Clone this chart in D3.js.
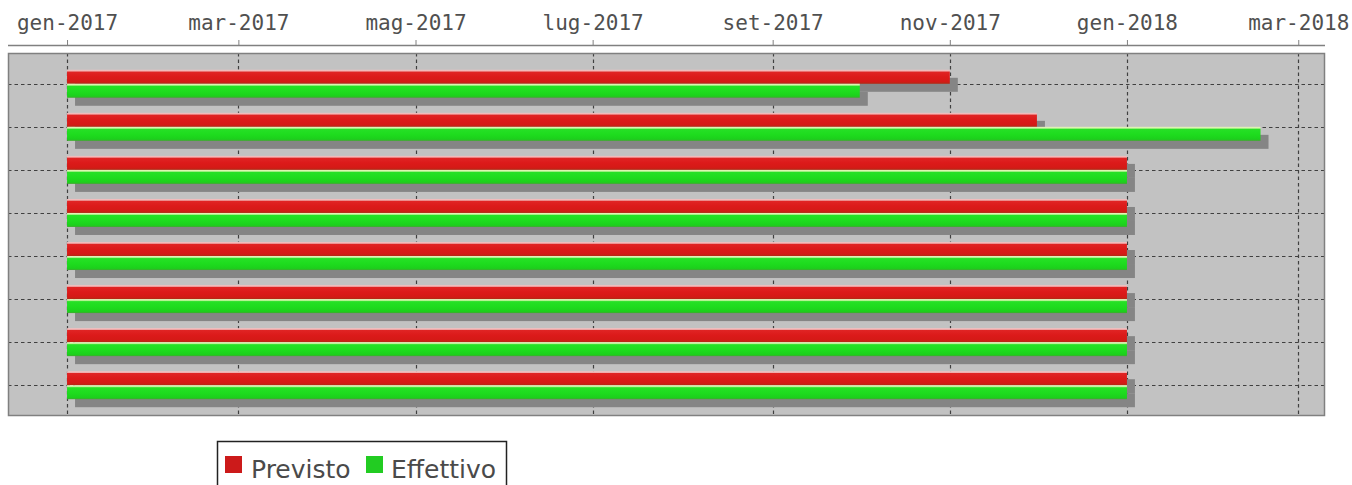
<!DOCTYPE html>
<html>
<head>
<meta charset="utf-8">
<script src="https://cdn.jsdelivr.net/npm/d3@7"></script>
<style>
  html, body { margin: 0; padding: 0; background: #ffffff; }
  svg { display: block; }
</style>
</head>
<body>
<svg id="chart" width="1352" height="485"></svg>
<script>
// ---- data ----
const tasks = ["Attività 1", "Attività 2", "Attività 3", "Attività 4", "Attività 5", "Attività 6", "Attività 7", "Attività 8"];
const seriesNames = ["Previsto", "Effettivo"];
const previstoStart = ["2017-01-01", "2017-01-01", "2017-01-01", "2017-01-01", "2017-01-01", "2017-01-01", "2017-01-01", "2017-01-01"];
const previstoEnd = ["2017-11-01", "2017-12-01", "2018-01-01", "2018-01-01", "2018-01-01", "2018-01-01", "2018-01-01", "2018-01-01"];
const effettivoStart = ["2017-01-01", "2017-01-01", "2017-01-01", "2017-01-01", "2017-01-01", "2017-01-01", "2017-01-01", "2017-01-01"];
const effettivoEnd = ["2017-10-01", "2018-02-16", "2018-01-01", "2018-01-01", "2018-01-01", "2018-01-01", "2018-01-01", "2018-01-01"];
const tickDates = ["2017-01-01", "2017-03-01", "2017-05-01", "2017-07-01", "2017-09-01", "2017-11-01", "2018-01-01", "2018-03-01"];
const tickLabels = ["gen-2017", "mar-2017", "mag-2017", "lug-2017", "set-2017", "nov-2017", "gen-2018", "mar-2018"];
const axisStart = "2016-12-11T16:00:00Z";
const axisEnd = "2018-03-10T05:00:00Z";

const parse = s => new Date(s.length === 10 ? s + "T00:00:00Z" : s);

const svg = d3.select("#chart");
const plot = { x0: 8, x1: 1325, y0: 53, y1: 416 };

const x = d3.scaleUtc()
  .domain([parse(axisStart), parse(axisEnd)])
  .range([plot.x0, plot.x1]);

const y = d3.scaleBand()
  .domain(tasks)
  .range([plot.y0, plot.y1])
  .paddingInner(0.35)
  .paddingOuter(0.39);

const ySub = d3.scaleBand()
  .domain(seriesNames)
  .range([0, y.bandwidth()]);

// gradients
const defs = svg.append("defs");
function grad(id, stops) {
  const g = defs.append("linearGradient").attr("id", id)
    .attr("x1", 0).attr("y1", 0).attr("x2", 0).attr("y2", 1);
  stops.forEach(s => g.append("stop").attr("offset", s[0]).attr("stop-color", s[1]));
}
grad("gPrev", [["0%", "#f4c4c4"], ["9%", "#f0b0b0"], ["16%", "#e02424"], ["50%", "#dc1a1a"], ["85%", "#d41a16"], ["100%", "#b02a14"]]);
grad("gEff", [["0%", "#f2f4c4"], ["9%", "#c8f4a0"], ["18%", "#26e026"], ["55%", "#1edc1e"], ["88%", "#1cd01c"], ["100%", "#40a830"]]);
const fills = { "Previsto": "url(#gPrev)", "Effettivo": "url(#gEff)" };

// plot background
svg.append("rect")
  .attr("x", plot.x0).attr("y", plot.y0)
  .attr("width", plot.x1 - plot.x0).attr("height", plot.y1 - plot.y0)
  .attr("fill", "#c2c2c2");

// gridlines
const gridG = svg.append("g");
const tickValues = tickDates.map(parse);
gridG.selectAll("line.v").data(tickValues).join("line")
  .attr("x1", d => Math.round(x(d)) + 0.5).attr("x2", d => Math.round(x(d)) + 0.5)
  .attr("y1", plot.y0).attr("y2", plot.y1)
  .attr("stroke", "#404040").attr("stroke-width", 1.2).attr("stroke-dasharray", "3.5,3");
gridG.selectAll("line.h").data(tasks).join("line")
  .attr("x1", plot.x0).attr("x2", plot.x1)
  .attr("y1", d => Math.round(y(d) + y.bandwidth() / 2) + 0.5)
  .attr("y2", d => Math.round(y(d) + y.bandwidth() / 2) + 0.5)
  .attr("stroke", "#404040").attr("stroke-width", 1.2).attr("stroke-dasharray", "3.5,3");

// bar records
const bars = [];
tasks.forEach((t, i) => {
  bars.push({ task: t, series: "Previsto", start: parse(previstoStart[i]), end: parse(previstoEnd[i]) });
  bars.push({ task: t, series: "Effettivo", start: parse(effettivoStart[i]), end: parse(effettivoEnd[i]) });
});

const shadowOff = 8;
const barG = svg.append("g");
barG.selectAll("rect.shadow").data(bars).join("rect")
  .attr("class", "shadow")
  .attr("x", d => x(d.start) + shadowOff)
  .attr("y", d => y(d.task) + ySub(d.series) + shadowOff)
  .attr("width", d => x(d.end) - x(d.start))
  .attr("height", ySub.bandwidth())
  .attr("fill", "#858585");
barG.selectAll("rect.bar").data(bars).join("rect")
  .attr("class", "bar")
  .attr("x", d => x(d.start))
  .attr("y", d => y(d.task) + ySub(d.series))
  .attr("width", d => x(d.end) - x(d.start))
  .attr("height", ySub.bandwidth())
  .attr("fill", d => fills[d.series]);

// plot outline
svg.append("rect")
  .attr("x", plot.x0 + 0.5).attr("y", plot.y0 + 0.5)
  .attr("width", plot.x1 - plot.x0 - 1).attr("height", plot.y1 - plot.y0 - 1)
  .attr("fill", "none").attr("stroke", "#808080").attr("stroke-width", 1.5);

// top axis
const axisY = 45;
const axis = d3.axisTop(x)
  .tickValues(tickValues)
  .tickFormat((d, i) => tickLabels[i])
  .tickSizeInner(5).tickSizeOuter(0).tickPadding(10);
const axG = svg.append("g").attr("transform", `translate(0,${axisY})`).call(axis);
axG.select(".domain").attr("stroke", "#808080").attr("stroke-width", 1.5)
  .attr("d", `M${plot.x0},0.5H${plot.x1}`);
axG.selectAll(".tick line").attr("stroke", "#808080");
axG.selectAll(".tick text")
  .attr("fill", "#505050")
  .style("font-family", "'DejaVu Sans Mono', monospace")
  .style("font-size", "21px");

// legend
const leg = svg.append("g");
leg.append("rect")
  .attr("x", 217.5).attr("y", 441.5).attr("width", 289).attr("height", 60)
  .attr("fill", "#ffffff").attr("stroke", "#222222").attr("stroke-width", 1.5);
const legItems = [
  { name: "Previsto", sx: 225, tx: 251 },
  { name: "Effettivo", sx: 366, tx: 391 }
];
const legendColors = { "Previsto": "#cc1a1a", "Effettivo": "#22cc22" };
legItems.forEach(it => {
  leg.append("rect").attr("x", it.sx).attr("y", 456).attr("width", 17).attr("height", 17)
    .attr("fill", legendColors[it.name]);
  leg.append("text").attr("x", it.tx).attr("y", 478)
    .attr("fill", "#4a4a4a")
    .style("font-family", "'DejaVu Sans', sans-serif")
    .style("font-size", "25px")
    .text(it.name);
});
</script>
</body>
</html>
